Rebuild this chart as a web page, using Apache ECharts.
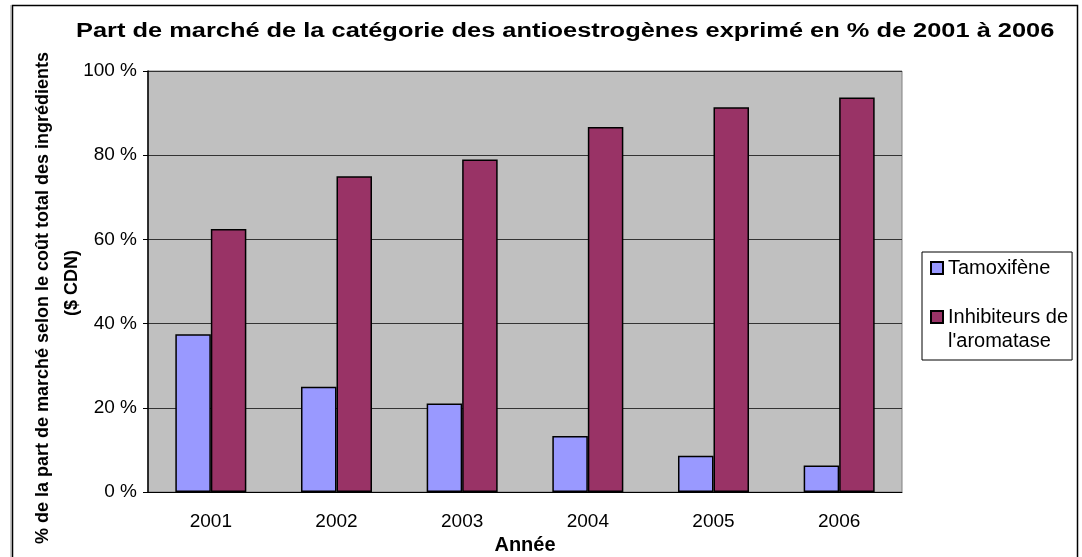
<!DOCTYPE html>
<html>
<head>
<meta charset="utf-8">
<script src="https://cdn.jsdelivr.net/npm/echarts@6/dist/echarts.min.js"></script>
<style>
  html, body { margin: 0; padding: 0; background: #fff; }
  #chart { width: 1082px; height: 557px; }
</style>
</head>
<body>
<div id="chart"></div>
<script>
// données
const annees = ['2001', '2002', '2003', '2004', '2005', '2006'];
const tamoxifene = [37.5, 25.0, 21.0, 13.3, 8.6, 6.3];
const inhibiteurs = [62.5, 75.0, 79.0, 86.7, 91.4, 93.7];
const nomsSeries = ['Tamoxifène', "Inhibiteurs de l'aromatase"];

const police = '"Liberation Sans", Arial, sans-serif';

const chart = echarts.init(document.getElementById('chart'));

const options = {
    animation: false,
    legend: {
        orient: 'vertical',
        left: 922,
        top: 252,
        width: 150,
        padding: [4, 4, 7, 8],
        itemGap: 1,
        itemWidth: 12,
        itemHeight: 12,
        icon: 'rect',
        borderColor: '#000',
        borderWidth: 1,
        // ligne vide au-dessus pour aligner le carré sur la première ligne
        formatter: (name) => (name.indexOf('de ') > 0 ? ' \n' + name.replace('de ', 'de\n') : name),
        textStyle: { fontFamily: police, fontSize: 20, color: '#000', lineHeight: 24 },
        data: nomsSeries
    },
    grid: {
        left: 148,
        top: 71,
        width: 754,
        height: 421,
        outerBoundsMode: 'none',
        containLabel: false,
        show: true,
        backgroundColor: '#C0C0C0',
        borderColor: '#808080',
        borderWidth: 1
    },
    xAxis: {
        type: 'category',
        data: annees,
        name: 'Année',
        nameLocation: 'middle',
        nameGap: 36,
        nameTextStyle: { fontFamily: police, fontSize: 20, fontWeight: 'bold', color: '#000' },
        axisLine: { lineStyle: { color: '#000', width: 1 } },
        axisTick: { length: 5, lineStyle: { color: '#000' } },
        axisLabel: { fontFamily: police, fontSize: 19, color: '#000', margin: 20 }
    },
    yAxis: {
        type: 'value',
        min: 0,
        max: 100,
        interval: 20,
        axisLine: { show: true, lineStyle: { color: '#000', width: 1.5 } },
        axisTick: { show: true, length: 5, lineStyle: { color: '#000' } },
        axisLabel: { fontFamily: police, fontSize: 19, color: '#000', margin: 11, formatter: '{value} %' },
        splitLine: { lineStyle: { color: '#333', width: 1 } }
    },
    series: [
        {
            name: nomsSeries[0],
            type: 'bar',
            data: tamoxifene,
            barGap: '0%',
            barCategoryGap: '43.5%',
            itemStyle: { color: '#9999FF', borderColor: '#000', borderWidth: 1.5 }
        },
        {
            name: nomsSeries[1],
            type: 'bar',
            data: inhibiteurs,
            barGap: '0%',
            barCategoryGap: '43.5%',
            itemStyle: { color: '#993366', borderColor: '#000', borderWidth: 1.5 }
        }
    ],
    graphic: [
        // cadre extérieur
        {
            type: 'rect',
            shape: { x: 12.5, y: 5.5, width: 1065, height: 600 },
            style: { fill: 'none', stroke: '#000', lineWidth: 1.5 },
            silent: true
        },
        {
            type: 'line',
            shape: { x1: 11, y1: 5, x2: 11, y2: 557 },
            style: { stroke: '#909090', lineWidth: 1 },
            silent: true
        },
        // titre (texte un peu étiré en largeur comme dans l'original)
        {
            type: 'text',
            x: 76,
            y: 21,
            scaleX: 1.27,
            style: {
                text: 'Part de marché de la catégorie des antioestrogènes exprimé en % de 2001 à 2006',
                font: 'bold 20px ' + police,
                fill: '#000',
                align: 'left',
                verticalAlign: 'top'
            }
        },
        // titre de l'axe vertical
        {
            type: 'text',
            x: 43,
            y: 298,
            rotation: Math.PI / 2,
            style: {
                text: '% de la part de marché selon le coût total des ingrédients',
                font: 'bold 18px ' + police,
                fill: '#000',
                align: 'center',
                verticalAlign: 'middle'
            }
        },
        {
            type: 'text',
            x: 72,
            y: 283,
            rotation: Math.PI / 2,
            style: {
                text: '($ CDN)',
                font: 'bold 18px ' + police,
                fill: '#000',
                align: 'center',
                verticalAlign: 'middle'
            }
        }
    ]
};

chart.setOption(options);
</script>
</body>
</html>
